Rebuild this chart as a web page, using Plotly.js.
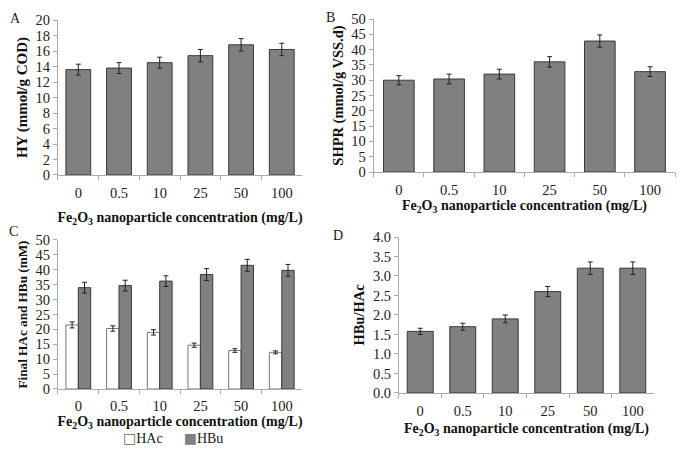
<!DOCTYPE html>
<html><head><meta charset="utf-8">
<script src="https://cdn.plot.ly/plotly-3.0.1.min.js"></script>
<style>body{margin:0;background:#fff}#c{width:682px;height:453px}</style>
</head><body><div id="c"></div>
<script>
const categories = ['0','0.5','10','25','50','100'];
const hyValues = [13.6, 13.8, 14.5, 15.4, 16.8, 16.2];
const hyErrors = [0.7, 0.7, 0.7, 0.8, 0.8, 0.8];
const shprValues = [30.0, 30.4, 32.0, 36.0, 42.8, 32.8];
const shprErrors = [1.5, 1.6, 1.6, 1.7, 2.0, 1.6];
const hacValues = [21.5, 20.3, 19.0, 14.7, 12.9, 12.3];
const hacErrors = [1.0, 0.9, 0.9, 0.7, 0.6, 0.5];
const hbuValues = [34.0, 34.7, 36.2, 38.4, 41.5, 39.8];
const hbuErrors = [1.8, 1.8, 1.8, 2.0, 2.0, 2.0];
const ratioValues = [1.58, 1.70, 1.90, 2.60, 3.20, 3.20];
const ratioErrors = [0.08, 0.09, 0.10, 0.13, 0.16, 0.16];

const GRAY = '#808080', EDGE = '#3a3a3a', FONT = 'Liberation Serif';
function bar(y, err, xa, ya, name, fill) {
  return {type:'bar', x:categories, y:y, xaxis:xa, yaxis:ya, name:name, showlegend:false,
    marker:{color:fill, line:{color: fill==='#ffffff' ? '#777' : EDGE, width:1}},
    error_y:{type:'data', array:err, visible:true, color:'#222', thickness:1, width:2.5}};
}
const data = [
  bar(hyValues, hyErrors, 'x', 'y', 'HY', GRAY),
  bar(shprValues, shprErrors, 'x2', 'y2', 'SHPR', GRAY),
  bar(hacValues, hacErrors, 'x3', 'y3', 'HAc', '#ffffff'),
  bar(hbuValues, hbuErrors, 'x3', 'y3', 'HBu', GRAY),
  bar(ratioValues, ratioErrors, 'x4', 'y4', 'HBu/HAc', GRAY)
];
const xTitle = 'Fe<sub>2</sub>O<sub>3</sub> nanoparticle concentration (mg/L)';
function xa(dom, anchor, standoff, lblStand) {
  return {domain:dom, anchor:anchor, type:'category', showline:true, linecolor:'#aaa', linewidth:1,
    ticks:'outside', tickson:'boundaries', ticklen:4, tickcolor:'#aaa', showgrid:false, zeroline:false,
    ticklabelstandoff:(lblStand===undefined?5:lblStand),
    tickfont:{family:FONT, size:14.5, color:'#222'},
    title:{text:'<b>'+xTitle+'</b>', font:{family:FONT, size:14, color:'#111'}, standoff:standoff}};
}
function ya(dom, anchor, range, dtick, title, fmt, tsize) {
  return {domain:dom, anchor:anchor, range:range, dtick:dtick, showline:true, linecolor:'#aaa', linewidth:1,
    ticks:'outside', ticklen:4, tickcolor:'#aaa', showgrid:false, zeroline:false, tickformat:fmt||'',
    tickfont:{family:FONT, size:14.5, color:'#222'},
    title:{text:'<b>'+title+'</b>', font:{family:FONT, size:tsize||14.5, color:'#111'}, standoff:4}};
}
const layout = {
  width:682, height:453, margin:{l:0,r:0,t:0,b:0}, paper_bgcolor:'#fff', plot_bgcolor:'#fff',
  bargap:0.39, bargroupgap:0, barmode:'group',
  font:{family:FONT, color:'#222'},
  xaxis: xa([0.085,0.443],'y',11),
  yaxis: ya([0.6137,0.9558],'x',[0,20],2,'HY (mmol/g COD)', '', 15),
  xaxis2: xa([0.548,0.990],'y2',2),
  yaxis2: ya([0.6203,0.958],'x2',[0,50],5,'SHPR (mmol/g VSS.d)'),
  xaxis3: xa([0.085,0.443],'y3',0,4),
  yaxis3: ya([0.1413,0.4702],'x3',[0,50],5,'Final HAc and HBu (mM)', '', 13.2),
  xaxis4: xa([0.585,0.959],'y4',4),
  yaxis4: ya([0.1325,0.4768],'x4',[0,4],0.5,'HBu/HAc','.1f'),
  showlegend:false,
  annotations:[
    {text:'A', x:0.012, y:0.96, xref:'paper', yref:'paper', showarrow:false, xanchor:'left', yanchor:'middle', font:{family:FONT,size:14,color:'#222'}},
    {text:'B', x:0.475, y:0.962, xref:'paper', yref:'paper', showarrow:false, xanchor:'left', yanchor:'middle', font:{family:FONT,size:14,color:'#222'}},
    {text:'C', x:0.010, y:0.488, xref:'paper', yref:'paper', showarrow:false, xanchor:'left', yanchor:'middle', font:{family:FONT,size:14,color:'#222'}},
    {text:'D', x:0.485, y:0.481, xref:'paper', yref:'paper', showarrow:false, xanchor:'left', yanchor:'middle', font:{family:FONT,size:14,color:'#222'}},
    {text:'<span style="font-family:DejaVu Sans;color:#666">□</span>HAc      <span style="font-family:DejaVu Sans;color:#808080">■</span>HBu',
     x:0.178, y:0.033, xref:'paper', yref:'paper', showarrow:false, xanchor:'left', yanchor:'middle', font:{family:FONT,size:14,color:'#222'}}
  ]
};
Plotly.newPlot('c', data, layout, {displayModeBar:false, staticPlot:true});
</script></body></html>
